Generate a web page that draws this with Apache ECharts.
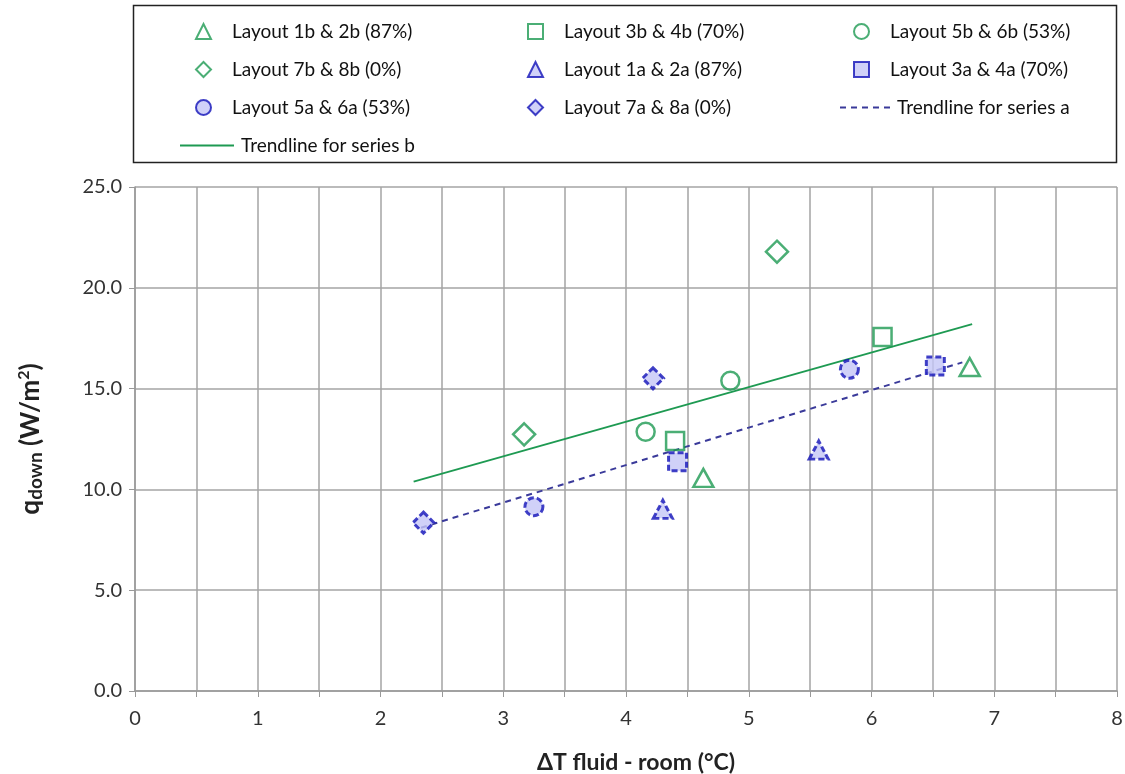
<!DOCTYPE html>
<html><head><meta charset="utf-8">
<script src="https://cdn.jsdelivr.net/npm/echarts@6/dist/echarts.min.js"></script>
<style>html,body{margin:0;padding:0;background:#fff}#c{width:1125px;height:774px}</style>
</head><body><div id="c"></div>
<script>
const xTicks = [0,1,2,3,4,5,6,7,8];
const yTicks = [0,5,10,15,20,25];
const names = ['Layout 1b & 2b (87%)','Layout 3b & 4b (70%)','Layout 5b & 6b (53%)','Layout 7b & 8b (0%)',
  'Layout 1a & 2a (87%)','Layout 3a & 4a (70%)','Layout 5a & 6a (53%)','Layout 7a & 8a (0%)',
  'Trendline for series a','Trendline for series b'];
const s1b = [[4.63,10.57],[6.80,16.07]];
const s3b = [[4.40,12.40],[6.09,17.56]];
const s5b = [[4.16,12.86],[4.85,15.39]];
const s7b = [[3.17,12.73],[5.23,21.79]];
const s1a = [[4.30,9.01],[5.57,11.95]];
const s3a = [[4.42,11.37],[6.52,16.12]];
const s5a = [[3.25,9.14],[5.82,15.96]];
const s7a = [[2.35,8.35],[4.22,15.51]];
const trendA = [[2.33,8.10],[6.74,16.30]];
const trendB = [[2.27,10.38],[6.82,18.20]];

const GREEN = '#1e9a52', BLUE = '#1212b8', FILL = '#c4c6f6';
const FONT = 'Lato';
function bSeries(name, data, symbol, size){
  return {name, type:'scatter', data, symbol, symbolSize:size,
    itemStyle:{color:'rgba(255,255,255,0)', borderColor:GREEN, borderWidth:2.5}, z:5};
}
function aSeries(name, data, symbol, size){
  return {name, type:'scatter', data, symbol, symbolSize:size,
    itemStyle:{color:FILL, borderColor:BLUE, borderWidth:3, borderType:[6,3]}, z:5};
}
const legText = {fontFamily:FONT, fontSize:19, color:'#111', padding:[0,0,0,16]};
const legCommon = {orient:'vertical', itemGap:19, itemWidth:15, itemHeight:15, textStyle:legText, selectedMode:false};
const tri = 'path://M0,10 L5,0 L10,10 Z';
const clear = {color:'rgba(0,0,0,0)', borderWidth:0};
const chart = echarts.init(document.getElementById('c'));
chart.setOption({
  animation:false,
  backgroundColor:'#fff',
  graphic:[{type:'rect', shape:{x:133.5,y:5.5,width:983,height:157}, style:{fill:'none', stroke:'#222', lineWidth:1.5}, z:-1}],
  legend:[
    Object.assign({left:190, top:17, data:[names[0],names[3],names[6]]}, legCommon),
    Object.assign({left:522, top:17, data:[names[1],names[4],names[7]]}, legCommon),
    Object.assign({left:848, top:17, data:[names[2],names[5]]}, legCommon),
    Object.assign({}, legCommon, {left:174, top:131, itemWidth:54, itemHeight:16,
      data:[{name:names[9], itemStyle:clear}], textStyle:Object.assign({}, legText, {padding:[0,0,0,2]})}),
    Object.assign({}, legCommon, {left:834, top:93, itemWidth:50, itemHeight:16,
      data:[{name:names[8], itemStyle:clear}], textStyle:Object.assign({}, legText, {padding:[0,0,0,2]})})
  ],
  grid:{left:135, right:8, top:187, bottom:83, outerBoundsMode:'none'},
  xAxis:{type:'value', min:0, max:8, interval:1,
    name:'ΔT fluid - room (°C)', nameLocation:'middle', nameGap:60,
    nameTextStyle:{fontFamily:FONT, fontSize:23, fontWeight:'bold', color:'#222', padding:[0,0,0,20]},
    axisLine:{show:true, onZero:false, lineStyle:{color:'#999', width:1.5}},
    axisTick:{show:true, length:6, lineStyle:{color:'#999'}},
    minorTick:{show:true, splitNumber:2, length:6, lineStyle:{color:'#999'}},
    axisLabel:{fontFamily:FONT, fontSize:20, color:'#333', margin:18},
    splitLine:{show:true, lineStyle:{color:'#a4a4a4', width:1.5}},
    minorSplitLine:{show:true, lineStyle:{color:'#a4a4a4', width:1.5}}
  },
  yAxis:{type:'value', min:0, max:25, interval:5,
    name:'{a|q}{s|down}{a| (W/m}{p|2}{a|)}', nameLocation:'middle', nameGap:90, nameRotate:90,
    nameTextStyle:{rich:{
      a:{fontFamily:FONT, fontSize:26, fontWeight:'bold', color:'#222'},
      s:{fontFamily:FONT, fontSize:19, fontWeight:'bold', color:'#222', verticalAlign:'bottom', padding:[10,0,0,0]},
      p:{fontFamily:FONT, fontSize:16, fontWeight:'bold', color:'#222', verticalAlign:'top', padding:[0,0,10,0]}
    }},
    axisLine:{show:true, lineStyle:{color:'#999', width:1.5}},
    axisTick:{show:true, length:6, lineStyle:{color:'#999'}},
    axisLabel:{fontFamily:FONT, fontSize:20, color:'#333', margin:13, formatter:v=>v.toFixed(1)},
    splitLine:{show:true, lineStyle:{color:'#a4a4a4', width:1.5}}
  },
  series:[
    bSeries(names[0], s1b, tri, [20,18]),
    bSeries(names[1], s3b, 'rect', 18),
    bSeries(names[2], s5b, 'circle', 18),
    bSeries(names[3], s7b, 'diamond', [22,22]),
    aSeries(names[4], s1a, tri, [19,18]),
    aSeries(names[5], s3a, 'rect', 18),
    aSeries(names[6], s5a, 'circle', 18),
    aSeries(names[7], s7a, 'diamond', [21,21]),
    {name:names[8], type:'line', data:trendA, symbol:'none', z:3, itemStyle:clear,
      lineStyle:{color:'#3a3a9a', width:2, type:[6,5]}},
    {name:names[9], type:'line', data:trendB, symbol:'none', z:3, itemStyle:clear,
      lineStyle:{color:GREEN, width:1.8}}
  ]
});
</script></body></html>
